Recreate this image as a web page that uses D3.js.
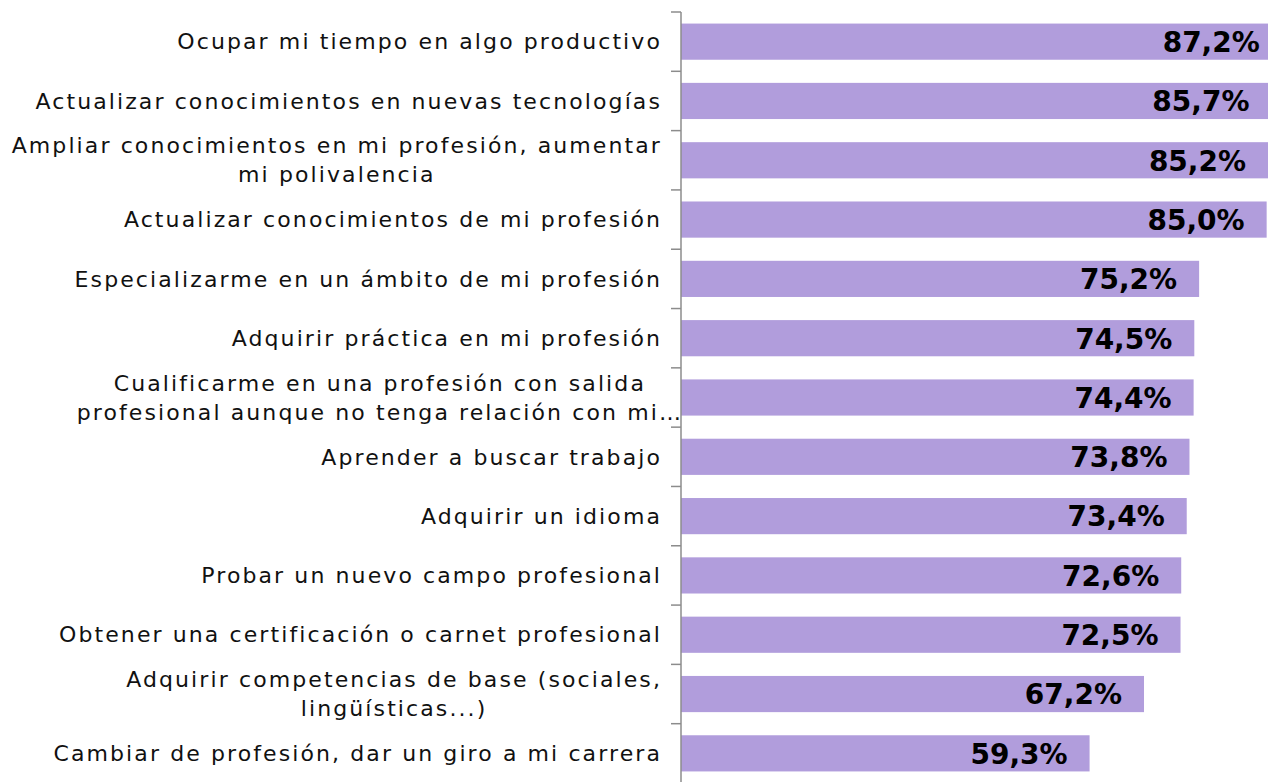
<!DOCTYPE html>
<html><head><meta charset="utf-8">
<script src="https://cdn.jsdelivr.net/npm/d3@7"></script>
<style>body{margin:0;background:#fff;} svg{display:block;}</style>
</head><body>
<svg id="c" width="1268" height="782"></svg>
<script>
const categories = [
  ["Ocupar mi tiempo en algo productivo"],
  ["Actualizar conocimientos en nuevas tecnologías"],
  ["Ampliar conocimientos en mi profesión, aumentar", "mi polivalencia"],
  ["Actualizar conocimientos de mi profesión"],
  ["Especializarme en un ámbito de mi profesión"],
  ["Adquirir práctica en mi profesión"],
  ["Cualificarme en una profesión con salida", "profesional aunque no tenga relación con mi…"],
  ["Aprender a buscar trabajo"],
  ["Adquirir un idioma"],
  ["Probar un nuevo campo profesional"],
  ["Obtener una certificación o carnet profesional"],
  ["Adquirir competencias de base (sociales,", "lingüísticas...)"],
  ["Cambiar de profesión, dar un giro a mi carrera"]
];
const values = [87.2, 85.7, 85.2, 85.0, 75.2, 74.5, 74.4, 73.8, 73.4, 72.6, 72.5, 67.2, 59.3];
const valueLabels = ["87,2%","85,7%","85,2%","85,0%","75,2%","74,5%","74,4%","73,8%","73,4%","72,6%","72,5%","67,2%","59,3%"];

(function(){
const svg = d3.select("#c");
const axisX = 681, y0 = 12, y1 = 783;
const idx = d3.range(values.length);
const y = d3.scaleBand().domain(idx).range([y0, y1]).paddingInner(0.39).paddingOuter(0.195);
const x = d3.scaleLinear().domain([0, 100]).range([axisX, axisX + 689]);

const g = svg.append("g");
g.selectAll("rect.bar").data(idx).join("rect")
  .attr("class","bar")
  .attr("x", x(0))
  .attr("y", i => y(i))
  .attr("width", i => x(values[i]) - x(0))
  .attr("height", y.bandwidth())
  .attr("fill", "#b19ddc");

const step = y.step();
g.append("line").attr("x1", axisX).attr("x2", axisX).attr("y1", y0).attr("y2", y1)
  .attr("stroke", "#8c8c8c").attr("stroke-width", 1.5);
g.selectAll("line.tick").data(d3.range(values.length + 1)).join("line")
  .attr("class","tick")
  .attr("x1", axisX - 10).attr("x2", axisX)
  .attr("y1", k => y0 + k * step).attr("y2", k => y0 + k * step)
  .attr("stroke", "#8c8c8c").attr("stroke-width", 1.5);

g.selectAll("text.val").data(idx).join("text")
  .attr("class","val")
  .attr("x", i => x(values[i]) - 22)
  .attr("y", i => y(i) + y.bandwidth() / 2)
  .attr("dy", "0.37em")
  .attr("text-anchor", "end")
  .attr("font-family", "DejaVu Sans")
  .attr("font-weight", "bold")
  .attr("font-size", 28)
  .attr("fill", "#000")
  .text(i => valueLabels[i]);

const fs = 22, lh = 29;
idx.forEach(i => {
  const lines = categories[i];
  const truncated = lines[lines.length - 1].endsWith("…");
  const rightEdge = truncated ? axisX + 2 : 662;
  const t = g.append("text")
    .attr("font-family", "DejaVu Sans")
    .attr("font-size", fs)
    .attr("letter-spacing", "2.1px")
    .attr("fill", "#111")
    .attr("text-anchor", "middle");
  const cy = y(i) + y.bandwidth() / 2;
  lines.forEach((ln, j) => {
    t.append("tspan").attr("x", 0)
      .attr("y", cy + (j - (lines.length - 1) / 2) * lh)
      .attr("dy", "0.35em")
      .text(ln);
  });
  let maxW = 0;
  t.selectAll("tspan").each(function(){ maxW = Math.max(maxW, this.getComputedTextLength()); });
  t.attr("transform", `translate(${rightEdge - maxW / 2},0)`);
});
})();
</script>
</body></html>
